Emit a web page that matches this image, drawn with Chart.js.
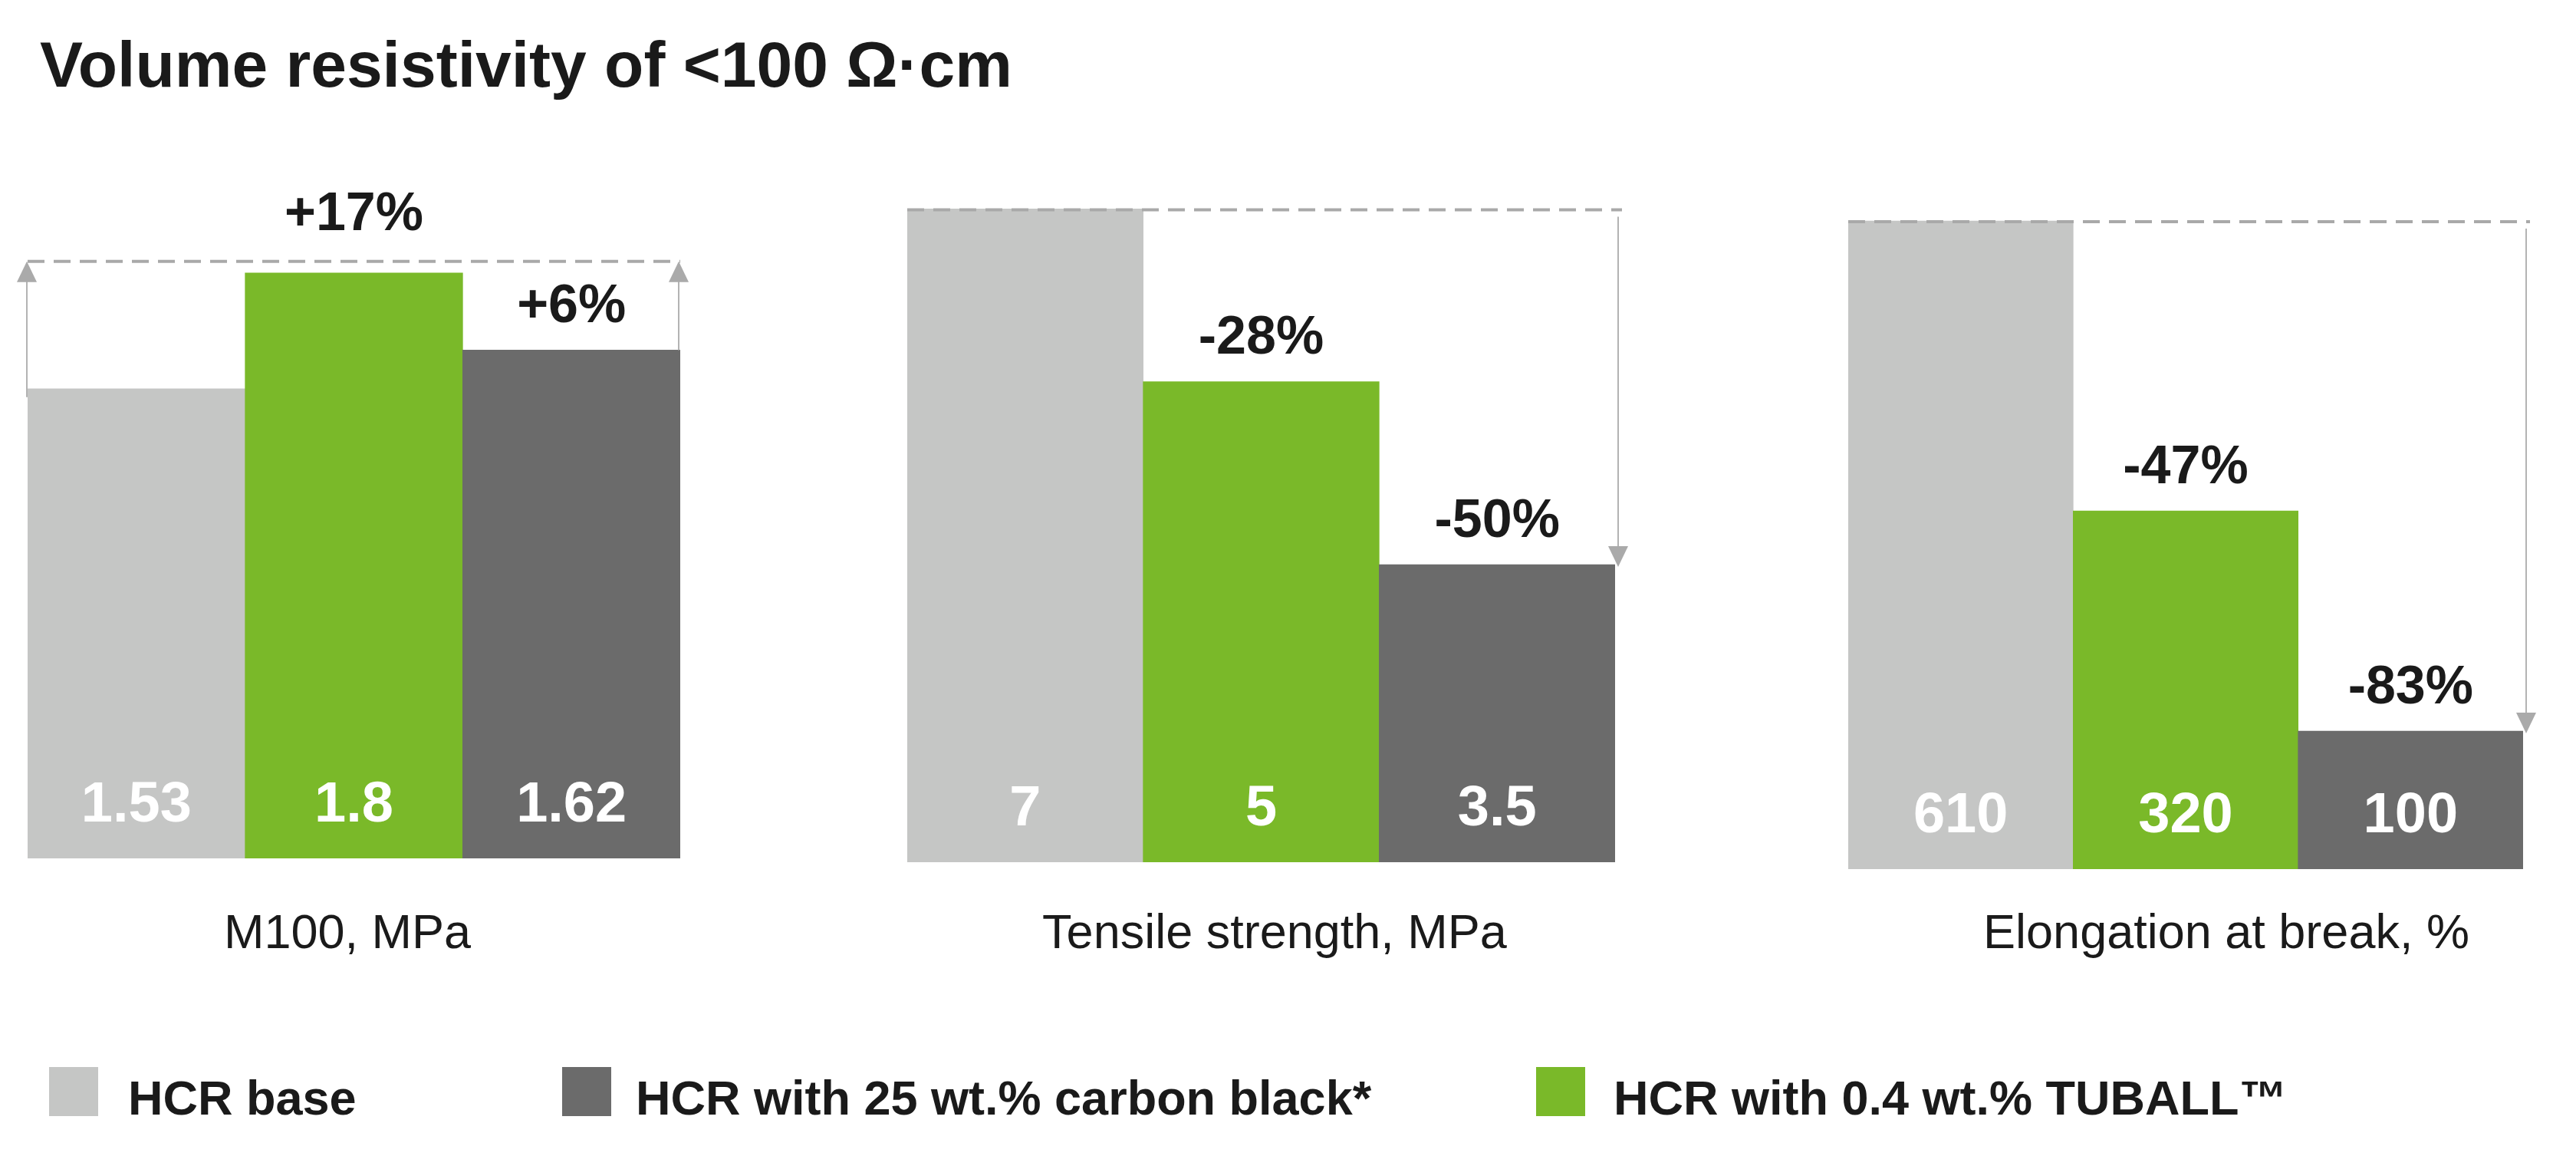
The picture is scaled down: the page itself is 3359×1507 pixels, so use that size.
<!DOCTYPE html>
<html>
<head>
<meta charset="utf-8">
<script src="https://cdn.jsdelivr.net/npm/chart.js@4"></script>
<style>
  body { margin: 0; background: #fff; width: 3359px; height: 1507px; position: relative; overflow: hidden;
         font-family: "Liberation Sans", Arial, sans-serif; color: #1a1a1a; }
  canvas { position: absolute; }
  .txt { position: absolute; line-height: 1; white-space: nowrap; }
  .title { left: 52px; top: 42px; font-size: 84px; font-weight: bold; }
  .cat { top: 1183px; font-size: 63px; transform: translateX(-50%); }
  .leg { top: 1400px; font-size: 63px; font-weight: bold; }
  .sq { position: absolute; top: 1391px; width: 64px; height: 64px; }
</style>
</head>
<body>
<div class="txt title">Volume resistivity of &lt;100 Ω·cm</div>
<canvas id="p0"></canvas>
<canvas id="p1"></canvas>
<canvas id="p2"></canvas>
<div id="cats"></div>
<div id="legend"></div>
<script>
// data
const panelTitles = ['M100, MPa', 'Tensile strength, MPa', 'Elongation at break, %'];
const seriesNames = ['HCR base', 'HCR with 0.4 wt.% TUBALL™', 'HCR with 25 wt.% carbon black*'];
const hcrBase = [1.53, 7, 610];
const hcrTuball = [1.8, 5, 320];
const hcrCarbon = [1.62, 3.5, 100];
const changeTuball = ['+17%', '-28%', '-47%'];
const changeCarbon = ['+6%', '-50%', '-83%'];

const colors = ['#c5c6c5', '#7ab929', '#6b6b6b'];
const legendOrder = [0, 2, 1];

// layout of each panel (pixels of the bars and the scale range)
const panelBox = [
  {left: 36, right: 887, bottom: 1119, type: 'linear', min: 0.434, max: 2.079, arrowsUp: true, labelX: 453},
  {left: 1183, right: 2106, bottom: 1124, type: 'logarithmic', min: 1.96, max: 7.8, arrowsUp: false, labelX: 1662},
  {left: 2410, right: 3290, bottom: 1133, type: 'linear', min: -38, max: 677.5, arrowsUp: false, labelX: 2903}
];
const areaTop = 200, canvasTop = 150, side = 40;

function arrow(ctx, x, yFrom, yTip) {
  const dir = yTip < yFrom ? 1 : -1;
  ctx.beginPath();
  ctx.moveTo(x, yFrom);
  ctx.lineTo(x, yTip + dir * 20);
  ctx.stroke();
  ctx.beginPath();
  ctx.moveTo(x, yTip);
  ctx.lineTo(x - 13, yTip + dir * 27);
  ctx.lineTo(x + 13, yTip + dir * 27);
  ctx.closePath();
  ctx.fill();
}

const panelPlugin = {
  id: 'panelMarks',
  afterDatasetsDraw(chart) {
    const ctx = chart.ctx;
    const box = chart.options.plugins.panelMarks;
    const bars = chart.getDatasetMeta(0).data;
    const values = chart.data.datasets[0].data;
    const area = chart.chartArea;
    ctx.save();
    // values inside the bars
    ctx.font = 'bold 74px "Liberation Sans", Arial, sans-serif';
    ctx.fillStyle = '#ffffff';
    ctx.textAlign = 'center';
    ctx.textBaseline = 'alphabetic';
    bars.forEach((b, i) => ctx.fillText(String(values[i]), b.x, area.bottom - 48));

    const tops = bars.map(b => b.y);
    const x0 = bars[0].x - bars[0].width / 2;
    const x1 = bars[2].x + bars[2].width / 2;
    const dashY = box.arrowsUp ? Math.min(...tops) - 15 : tops[0] + 1;

    // dashed reference line
    ctx.strokeStyle = '#a9a9a9';
    ctx.lineWidth = 4;
    ctx.setLineDash([22, 12]);
    ctx.beginPath();
    ctx.moveTo(x0, dashY);
    ctx.lineTo(x1 + (box.arrowsUp ? 0 : 9), dashY);
    ctx.stroke();
    ctx.setLineDash([]);

    // arrows
    ctx.strokeStyle = '#b3b3b3';
    ctx.fillStyle = '#aaaaaa';
    ctx.lineWidth = 2;
    if (box.arrowsUp) {
      arrow(ctx, x0 - 1, tops[0] + 11, dashY);
      arrow(ctx, x1 - 2, tops[2], dashY);
    } else {
      arrow(ctx, x1 + 4, dashY + 9, tops[2] + 3);
    }

    // change labels
    ctx.font = 'bold 70px "Liberation Sans", Arial, sans-serif';
    ctx.fillStyle = '#1a1a1a';
    const changes = [null, box.changeT, box.changeC];
    const maxIdx = tops.indexOf(Math.min(...tops));
    for (let i = 1; i < 3; i++) {
      let y = tops[i] - 36;
      if (box.arrowsUp && i === maxIdx) y = dashY - 41;
      ctx.fillText(changes[i], bars[i].x, y);
    }
    ctx.restore();
  }
};

panelBox.forEach((box, p) => {
  const canvas = document.getElementById('p' + p);
  const w = box.right - box.left + side * 2;
  const h = box.bottom - canvasTop + 10;
  canvas.width = w;
  canvas.height = h;
  canvas.style.left = (box.left - side) + 'px';
  canvas.style.top = canvasTop + 'px';
  new Chart(canvas.getContext('2d'), {
    type: 'bar',
    data: {
      labels: seriesNames,
      datasets: [{
        data: [hcrBase[p], hcrTuball[p], hcrCarbon[p]],
        backgroundColor: colors,
        borderWidth: 0,
        base: box.min,
        categoryPercentage: 1,
        barPercentage: 1
      }]
    },
    options: {
      responsive: false,
      animation: false,
      layout: {padding: {left: side, right: side, top: areaTop - canvasTop, bottom: 10}},
      scales: {
        x: {display: false},
        y: {type: box.type, display: false, min: box.min, max: box.max}
      },
      plugins: {
        legend: {display: false},
        tooltip: {enabled: false},
        panelMarks: {arrowsUp: box.arrowsUp, changeT: changeTuball[p], changeC: changeCarbon[p]}
      }
    },
    plugins: [panelPlugin]
  });

  const cat = document.createElement('div');
  cat.className = 'txt cat';
  cat.style.left = box.labelX + 'px';
  cat.textContent = panelTitles[p];
  document.getElementById('cats').appendChild(cat);
});

// legend
const legSquares = [64, 733, 2003];
const legTexts = [167, 829, 2104];
legendOrder.forEach((s, k) => {
  const sq = document.createElement('div');
  sq.className = 'sq';
  sq.style.left = legSquares[k] + 'px';
  sq.style.background = colors[s];
  const t = document.createElement('div');
  t.className = 'txt leg';
  t.style.left = legTexts[k] + 'px';
  t.textContent = seriesNames[s];
  const lg = document.getElementById('legend');
  lg.appendChild(sq);
  lg.appendChild(t);
});
</script>
</body>
</html>
